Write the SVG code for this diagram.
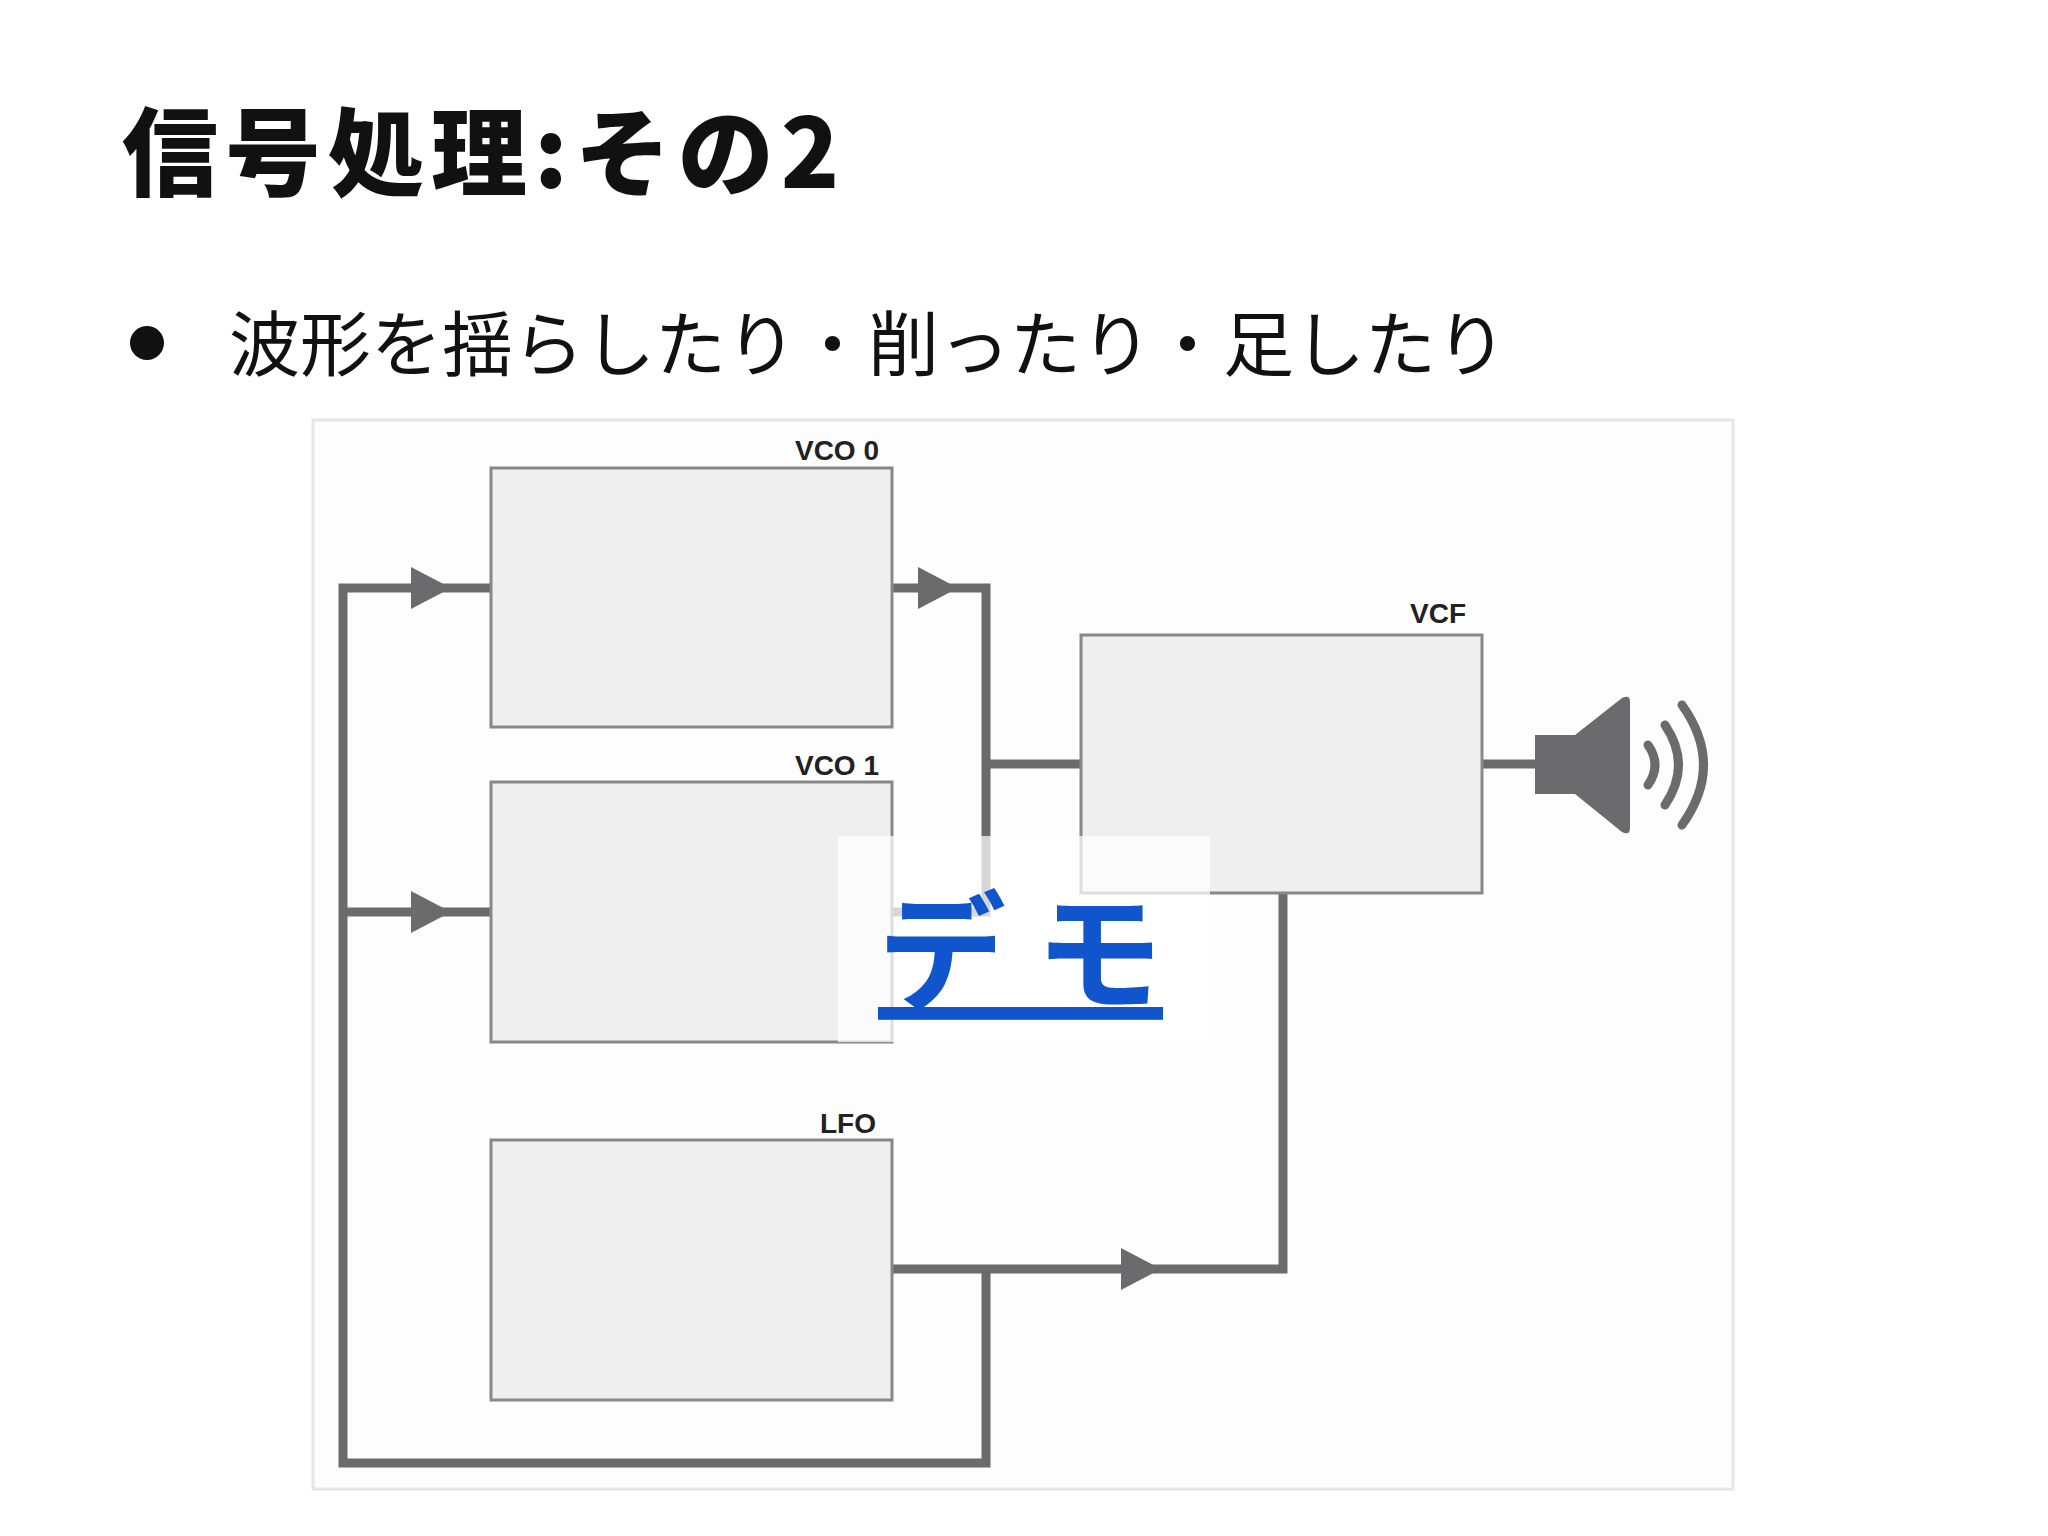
<svg xmlns="http://www.w3.org/2000/svg" width="2048" height="1536" viewBox="0 0 2048 1536">
<style>
.box{fill:#efeff0;stroke:#888;stroke-width:3}
.lbl{font-family:"Liberation Sans",Arial,sans-serif;font-weight:bold;font-size:28px;fill:#222;text-anchor:end}
.w{fill:none;stroke:#6b6b6d;stroke-width:9}
.ar{fill:#6b6b6d}
</style>
<rect width="2048" height="1536" fill="#fff"/>
<text x="122" y="188" font-family="'Noto Sans CJK JP',sans-serif" font-weight="900" font-size="96" letter-spacing="7" fill="#111">信号処理:その2</text>
<circle cx="147" cy="343" r="17" fill="#111"/>
<text x="229" y="370" font-family="'Noto Sans CJK JP',sans-serif" font-size="71" fill="#111">波形を揺らしたり・削ったり・足したり</text>
<rect x="313" y="420" width="1420" height="1069" fill="#fdfdfd" stroke="#e6e6e6" stroke-width="3"/>
<g id="connectors">
<path class="w" d="M491 588H343V1463H986V1269"/>
<path class="w" d="M343 912H491"/>
<path class="w" d="M892 1269H1283V893"/>
<path class="w" d="M892 588H986V912H892"/>
<path class="w" d="M986 764H1081"/>
<path class="w" d="M1482 764H1540"/>
<polygon class="ar" points="411,567 451,588 411,609"/>
<polygon class="ar" points="411,891 451,912 411,933"/>
<polygon class="ar" points="918,567 958,588 918,609"/>
<polygon class="ar" points="1121,1248 1161,1269 1121,1290"/>
</g>
<g id="vco0"><rect class="box" x="491" y="468" width="401" height="259"/><text class="lbl" x="879" y="460">VCO 0</text></g>
<g id="vco1"><rect class="box" x="491" y="782" width="401" height="260"/><text class="lbl" x="879" y="775">VCO 1</text></g>
<g id="lfo"><rect class="box" x="491" y="1140" width="401" height="260"/><text class="lbl" x="876" y="1133">LFO</text></g>
<g id="vcf"><rect class="box" x="1081" y="635" width="401" height="258"/><text class="lbl" x="1466" y="623">VCF</text></g>
<g id="speaker" fill="#6b6b6d">
<rect x="1535" y="735" width="45" height="59"/>
<path d="M1575 735L1622 698Q1630 694 1630 702V828Q1630 836 1622 832L1575 794Z"/>
<g fill="none" stroke="#6b6b6d" stroke-width="9" stroke-linecap="round">
<path d="M1648 745Q1662 765 1648 785"/>
<path d="M1665 725Q1692 765 1665 805"/>
<path d="M1682 705Q1725 765 1682 825"/>
</g>
</g>
<rect x="838" y="836" width="372" height="206" fill="#fff" opacity="0.72"/>
<text x="878" y="1000" font-family="'Noto Sans CJK JP',sans-serif" font-weight="bold" font-size="128" fill="#1155cc" text-decoration="underline">デ モ</text>
</svg>
